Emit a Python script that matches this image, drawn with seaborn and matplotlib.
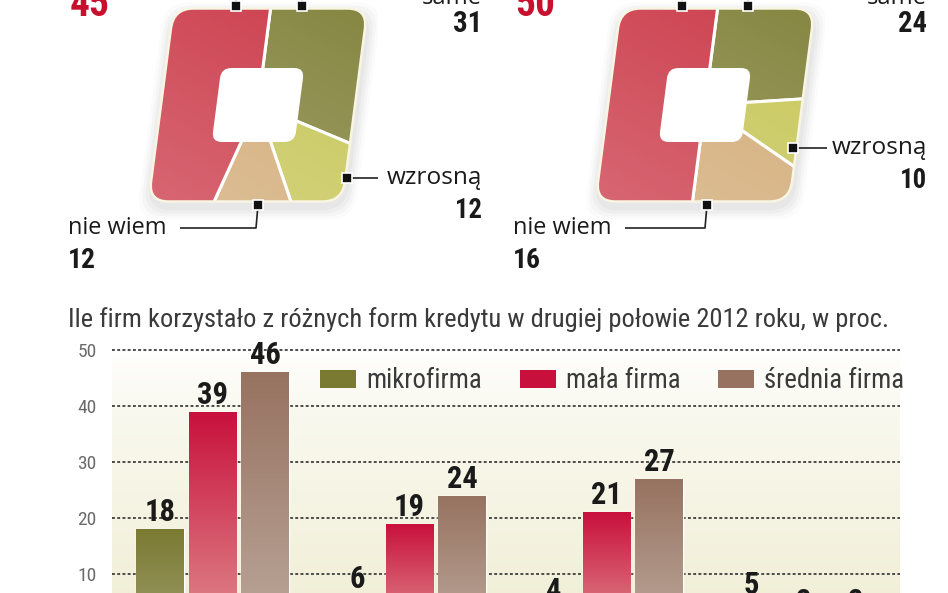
import numpy as np
import pandas as pd
import matplotlib
matplotlib.use("Agg")
import matplotlib.pyplot as plt
import seaborn as sns
from matplotlib.patches import FancyBboxPatch, Patch
from matplotlib.transforms import Affine2D
from matplotlib.colors import LinearSegmentedColormap
from matplotlib import font_manager

# ---------------- data ----------------
donut_labels = ["pozostaną takie same", "wzrosną", "nie wiem", "spadną"]
donut1_values = [31, 12, 12, 45]
donut2_values = [24, 10, 16, 50]
donut_colors = ["#858540", "#c8c75a", "#d3ac78", "#cc3c4b"]

bar_categories = ["forma 1", "forma 2", "forma 3", "forma 4"]
firm_names = ["mikrofirma", "mała firma", "średnia firma"]
mikrofirma = [18, 6, 4, 5]
mala_firma = [39, 19, 21, 2]
srednia_firma = [46, 24, 27, 2]
bar_top_colors = ["#7a7a32", "#c8103c", "#977260"]
bar_bottom_colors = ["#9c9b68", "#e08a8c", "#bba79a"]

title = "Ile firm korzystało z różnych form kredytu w drugiej połowie 2012 roku, w proc."
y_ticks = [10, 20, 30, 40, 50]

# ---------------- fonts ----------------
sns.set_theme(style="white")
avail = {f.name for f in font_manager.fontManager.ttflist}
def pick(*names):
    for n in names:
        if n in avail:
            return n
    return "DejaVu Sans"
NARROW = pick("Liberation Sans Narrow", "Roboto Condensed", "DejaVu Sans")
LABEL = pick("Open Sans", "DejaVu Sans")
plt.rcParams["font.family"] = [LABEL, "DejaVu Sans"]

W, H = 948, 593
fig = plt.figure(figsize=(W / 100, H / 100), dpi=100)
fig.patch.set_facecolor("white")
renderer = fig.canvas.get_renderer()

def fit(t, width_px):
    bb = t.get_window_extent(renderer)
    if bb.width > 0:
        t.set_fontsize(t.get_fontsize() * width_px / bb.width)
    return t

# ---------------- donuts ----------------
def draw_donut(cx, cy, values, k=0.13):
    ax = fig.add_axes([(cx - 120) / W, (H - cy - 120) / H, 240 / W, 240 / H])
    tr = Affine2D().skew(np.arctan(k), 0) + ax.transData
    for i, a in enumerate([0.05, 0.04, 0.03, 0.02]):
        g = 0.03 * (i + 1)
        sh = FancyBboxPatch((-0.97 - g + 0.02, -0.965 - g - 0.06), 1.94 + 2 * g, 1.93 + 2 * g,
                            boxstyle="round,pad=0,rounding_size=0.25", transform=tr,
                            facecolor="#555555", edgecolor="none", alpha=a, zorder=0.5)
        ax.add_patch(sh)
    outer = FancyBboxPatch((-0.97, -0.965), 1.94, 1.93,
                           boxstyle="round,pad=0,rounding_size=0.2", transform=tr,
                           facecolor="none", edgecolor="none")
    wedges, _ = ax.pie(values, colors=donut_colors, startangle=90, counterclock=False,
                       radius=2.0, wedgeprops=dict(edgecolor="white", linewidth=2.2))
    for w in wedges:
        w.set_transform(tr)
        w.set_clip_on(True)
        w.set_clip_path(outer)
        w.set_zorder(1)
    yy, xx = np.mgrid[0:1:100j, 0:1:100j]
    rgba = np.ones((100, 100, 4))
    rgba[..., 3] = np.clip(0.24 * (0.65 * yy + 0.35 * (1 - xx)), 0, 1)
    im = ax.imshow(rgba, extent=(-1.2, 1.2, -1.2, 1.2), zorder=2, aspect="auto")
    im.set_clip_path(outer)
    border = FancyBboxPatch((-0.97, -0.965), 1.94, 1.93,
                            boxstyle="round,pad=0,rounding_size=0.2", transform=tr,
                            facecolor="none", edgecolor="#f8f5e2", linewidth=1.8, zorder=3)
    ax.add_patch(border)
    hole = FancyBboxPatch((-0.415, -0.37), 0.83, 0.74,
                          boxstyle="round,pad=0,rounding_size=0.1", transform=tr,
                          facecolor="white", edgecolor="none", zorder=4)
    ax.add_patch(hole)
    ax.set_xlim(-1.2, 1.2)
    ax.set_ylim(-1.2, 1.2)
    ax.set_aspect("auto")
    ax.axis("off")
    return ax

draw_donut(258, 105, donut1_values)
draw_donut(705, 105, donut2_values)

# ---------------- overlay (pixel coordinates) ----------------
ov = fig.add_axes([0, 0, 1, 1])
ov.set_xlim(0, W)
ov.set_ylim(H, 0)
ov.axis("off")
ov.set_zorder(10)
ov.patch.set_alpha(0)

def leader(pts, marker_xy):
    xs, ys = zip(*pts)
    ov.plot(xs, ys, color="#222222", lw=1.2, solid_capstyle="butt")
    ov.plot([marker_xy[0]], [marker_xy[1]], marker="s", ms=6.5, mfc="#111111",
            mec="white", mew=1.2, ls="none")

def num(x, y, s, w, ha, color="#1a1a1a"):
    t = ov.text(x, y, s, ha=ha, va="baseline", fontweight="bold", color=color,
                family=[NARROW, "DejaVu Sans"], fontsize=20)
    fit(t, w)

def lab(x, y, s, w, ha):
    t = ov.text(x, y, s, ha=ha, va="baseline", color="#1a1a1a",
                family=[LABEL, "DejaVu Sans"], fontsize=16)
    fit(t, w)

def donut_labels_block(v, x_left, x_right, cx_top1, cx_top2, wz_y, wz_mx, wz_lx,
                       nw_mx, nw_lx, red_x, red_w):
    leader([(cx_top1, 6), (cx_top1, -10)], (cx_top1, 6))
    leader([(cx_top2, 6), (cx_top2, -10)], (cx_top2, 6))
    ov.text(red_x, -30, donut_labels[3], ha="left", va="baseline", fontsize=16, color="#1a1a1a")
    num(red_x, 16, str(v[3]), red_w, "left", color="#c8102e")
    t1 = ov.text(x_right, -20, "pozostaną takie", ha="right", va="baseline", fontsize=16, color="#1a1a1a")
    t2 = ov.text(x_right, 4, "same", ha="right", va="baseline", color="#1a1a1a", fontsize=16)
    fit(t2, 60)
    t1.set_fontsize(t2.get_fontsize())
    num(x_right, 32, str(v[0]), 29, "right")
    leader([(wz_mx, wz_y), (wz_lx, wz_y)], (wz_mx, wz_y))
    lab(x_right, wz_y + 6, donut_labels[1], 95, "right")
    num(x_right, wz_y + 40, str(v[1]), 27, "right")
    leader([(nw_mx, 205), (nw_mx - 2, 228), (nw_lx, 228)], (nw_mx, 205))
    lab(x_left, 234, donut_labels[2], 99, "left")
    num(x_left, 268, str(v[2]), 28, "left")

donut_labels_block(donut1_values, 68, 482, 236, 302, 178, 347, 378, 258, 180, 70, 40)
donut_labels_block(donut2_values, 513, 927, 682, 748, 148, 793, 827, 707, 625, 515, 40)

# ---------------- bar chart ----------------
df = pd.DataFrame({
    "forma": bar_categories * 3,
    "firma": sum([[f] * len(bar_categories) for f in firm_names], []),
    "proc": mikrofirma + mala_firma + srednia_firma,
})

ZERO_Y = 630.0
PX_PER = 5.6
YMAX = 51
ax_h = YMAX * PX_PER
ax = fig.add_axes([112 / W, (H - ZERO_Y) / H, 788 / W, ax_h / H])
ax.set_zorder(5)
ax.patch.set_alpha(0)
sns.barplot(data=df, x="forma", y="proc", hue="firma", hue_order=firm_names,
            palette=bar_top_colors, width=0.8, gap=0.1, saturation=1,
            legend=False, ax=ax, zorder=3)

for cont, top_c, bot_c in zip(ax.containers, bar_top_colors, bar_bottom_colors):
    cmap = LinearSegmentedColormap.from_list("g", [top_c, bot_c])
    for p in cont.patches:
        x0, y0 = p.get_xy()
        w, h = p.get_width(), p.get_height()
        if h <= 0:
            continue
        im = ax.imshow(np.linspace(0, 1, 256).reshape(-1, 1), extent=(x0, x0 + w, y0, y0 + h),
                       origin="upper", aspect="auto", cmap=cmap, zorder=3.5)
        im.set_clip_path(p)
    ax.bar_label(cont, padding=1.5, fontweight="bold", color="#1a1a1a",
                 family=[NARROW, "DejaVu Sans"], fontsize=22, zorder=6)

bg = LinearSegmentedColormap.from_list("bg", [(0, "#ffffff"), (0.25, "#f9f8ee"), (1, "#f0eed4")])
ax.imshow(np.linspace(0, 1, 256).reshape(-1, 1), extent=(-0.51, 3.49, 0, YMAX),
          origin="upper", aspect="auto", cmap=bg, zorder=0)

ax.set_xlim(-0.51, 3.49)
ax.set_ylim(0, YMAX)
ax.set_yticks(y_ticks)
ax.set_yticklabels([str(v) for v in y_ticks], family=[NARROW, "DejaVu Sans"])
ax.tick_params(axis="y", length=0, pad=11, labelsize=14, labelcolor="#6b6b6b")
ax.tick_params(axis="x", length=0)
ax.set_xlabel("")
ax.set_ylabel("")
ax.set_axisbelow(True)
ax.grid(axis="y", linestyle=(0, (1.6, 1.3)), color="#3d3d3d", linewidth=1.3, zorder=1)
ax.grid(axis="x", visible=False)
for s in ax.spines.values():
    s.set_visible(False)

probe = fig.text(0, 0, "mikrofirma", family=[NARROW, "DejaVu Sans"], fontsize=16)
fit(probe, 116)
lfs = probe.get_fontsize()
probe.remove()
lfs_px = lfs * 100 / 72
handles = [Patch(facecolor=c, edgecolor="none") for c in bar_top_colors]
leg = ax.legend(handles, firm_names, loc="center left",
                bbox_to_anchor=(208 / 788, (ZERO_Y - 381) / ax_h),
                ncol=3, frameon=False, borderaxespad=0, borderpad=0,
                prop={"family": [NARROW, "DejaVu Sans"], "size": lfs},
                handlelength=36 / lfs_px, handleheight=17 / lfs_px,
                handletextpad=10 / lfs_px, columnspacing=38 / lfs_px)
for t in leg.get_texts():
    t.set_color("#3a3a3a")

tt = ov.text(68, 327, title, ha="left", va="baseline", color="#3a3a3a",
             family=[NARROW, "DejaVu Sans"], fontsize=18)
fit(tt, 820)

fig.savefig("out.png", dpi=100, facecolor="white")
